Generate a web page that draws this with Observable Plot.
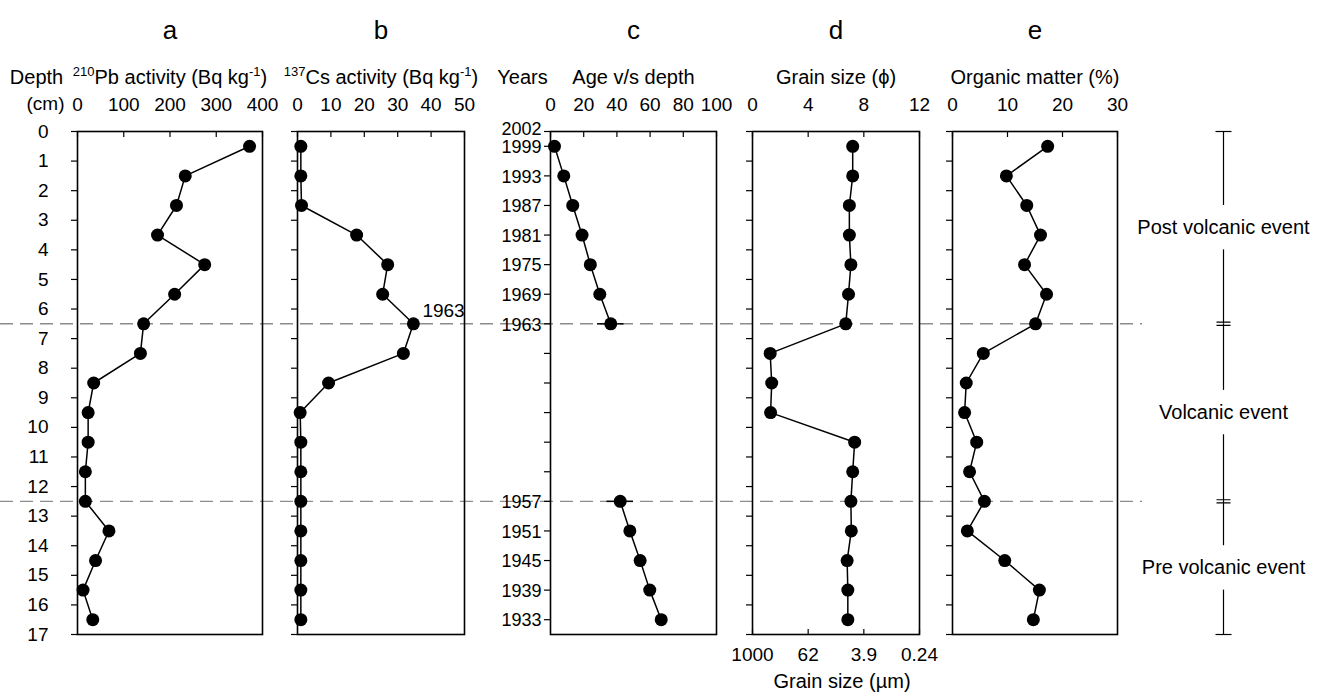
<!DOCTYPE html>
<html><head><meta charset="utf-8">
<script src="https://cdn.jsdelivr.net/npm/d3@7"></script>
<script src="https://cdn.jsdelivr.net/npm/@observablehq/plot@0.6"></script>
<style>
body{margin:0;background:#fff;}
#chart{position:relative;width:1327px;height:694px;overflow:hidden;background:#fff;font-family:"Liberation Sans",Arial,sans-serif;}
#chart svg{position:absolute;top:0;}
</style></head><body><div id="chart"></div>
<script>
// ---------- data ----------
const depths = [0.5,1.5,2.5,3.5,4.5,5.5,6.5,7.5,8.5,9.5,10.5,11.5,12.5,13.5,14.5,15.5,16.5];
const pb210 = [372,233,214,173,275,210,143,136,35,23,23,17,17,68,39,12,33];
const cs137 = [1,1,1.2,17.7,27,25.5,34.7,31.7,9.3,0.8,1,1,1,1,1,1,1];
const grainPhi = [7.2,7.2,6.96,6.96,7.07,6.9,6.7,1.27,1.38,1.3,7.34,7.2,7.07,7.1,6.8,6.85,6.85];
const organic = [17.3,9.8,13.5,16.0,13.1,17.1,15.1,5.6,2.5,2.2,4.4,3.1,5.8,2.7,9.5,15.8,14.7];

const ageDepths = [0.5,1.5,2.5,3.5,4.5,5.5,6.5,12.5,13.5,14.5,15.5,16.5];
const ageValues = [2.4,8,13.4,19,24,29.7,36.3,42,47.8,54,59.8,66.7];
const ageSegment = [1,1,1,1,1,1,1,2,2,2,2,2];
const ageErrDepths = [6.5,12.5];
const ageErr = [8,8];

const yearDepths = [0,0.5,1.5,2.5,3.5,4.5,5.5,6.5,12.5,13.5,14.5,15.5,16.5];
const yearLabels = ["2002","1999","1993","1987","1981","1975","1969","1963","1957","1951","1945","1939","1933"];
const halfDepthTicks = [0,0.5,1.5,2.5,3.5,4.5,5.5,6.5,7.5,8.5,9.5,10.5,11.5,12.5,13.5,14.5,15.5,16.5];
const depthTicks = [0,1,2,3,4,5,6,7,8,9,10,11,12,13,14,15,16,17];

const pbTicks = [0,100,200,300,400];
const csTicks = [0,10,20,30,40,50];
const ageTicks = [0,20,40,60,80,100];
const phiTicks = [0,4,8,12];
const umLabels = ["1000","62","3.9","0.24"];
const omTicks = [0,10,20,30];

const boundaries = [6.5,12.5];
const zones = [
  {label:"Post volcanic event", top:0, bottom:6.5},
  {label:"Volcanic event", top:6.5, bottom:12.5},
  {label:"Pre volcanic event", top:12.5, bottom:17}
];

// ---------- layout ----------
const H = 694, TOP = 131, BOTTOM = 634;
const FONT = '"Liberation Sans", Arial, sans-serif';
const chart = document.getElementById("chart");
const baseStyle = {background:"transparent", fontFamily:FONT, color:"#000", overflow:"visible"};
const yScale = {domain:[0,17], reverse:true};

const rows = (xs) => depths.map((d,i)=>({depth:d, v:xs[i]}));

function superscriptify(svg){
  svg.querySelectorAll("text").forEach(t=>{
    const s = t.textContent;
    if(!s.includes("^{")) return;
    const parts = s.split(/(\^\{[^}]*\})/).filter(p=>p);
    while(t.firstChild) t.removeChild(t.firstChild);
    let shift = 0;
    for(const part of parts){
      const ts = document.createElementNS("http://www.w3.org/2000/svg","tspan");
      const m = part.match(/^\^\{(.*)\}$/);
      if(m){ ts.textContent = m[1]; ts.setAttribute("font-size","13"); ts.setAttribute("dy", String(-8 - shift)); shift = -8; }
      else { ts.textContent = part; ts.setAttribute("dy", String(-shift)); shift = 0; }
      t.appendChild(ts);
    }
  });
}

function panel(cfg){
  const fw = cfg.right - cfg.left;
  const ml = Math.min(80, cfg.left);
  const mr = 40;
  const marks = [
    Plot.axisX(cfg.xticks, {anchor:"top", tickSize:-5, tickPadding:26, label:null, fontSize:19, tickFormat: d=>String(d), strokeWidth:1.2}),
    Plot.axisY(cfg.yticks || depthTicks, {anchor:"left", tickSize:6, tickPadding: cfg.ypad ?? 21, label:null, fontSize:19, tickFormat: cfg.yfmt || (()=>""), strokeWidth:1.2}),
    Plot.frame({stroke:"#000", strokeWidth:1.6}),
    Plot.text([cfg.letter], {frameAnchor:"top", dy:-101, fontSize:26, lineAnchor:"middle"}),
    Plot.text([cfg.title], {frameAnchor:"top", dy:-54, fontSize:20, lineAnchor:"middle"}),
    ...cfg.marks
  ];
  const p = Plot.plot({
    width: ml + fw + mr, height: H,
    marginLeft: ml, marginRight: mr, marginTop: TOP, marginBottom: H - BOTTOM,
    style: baseStyle,
    x: {domain: cfg.domain},
    y: yScale,
    marks
  });
  p.style.left = (cfg.left - ml) + "px";
  superscriptify(p);
  return p;
}

// dashed boundary lines (behind panels)
const overlay = Plot.plot({
  width: 1142, height: H, marginLeft: 0, marginRight: 0, marginTop: TOP, marginBottom: H - BOTTOM,
  style: baseStyle, x: {axis:null}, y: {...yScale, axis:null},
  marks: [Plot.ruleY(boundaries, {stroke:"#8c8c8c", strokeWidth:1.4, strokeDasharray:"13,7"})]
});
overlay.style.left = "0px";
chart.appendChild(overlay);

const dotOpts = {r:6.5, fill:"#000"};
const lineOpts = {stroke:"#000", strokeWidth:1.5};

// a: 210Pb
chart.appendChild(panel({
  left:77, right:262, domain:[0,400], xticks:pbTicks, letter:"a",
  title:"^{210}Pb activity (Bq kg^{-1})", yfmt: d=>String(d), ypad:23,
  marks:[
    Plot.text(["Depth"], {frameAnchor:"top-left", dx:-41, dy:-54, fontSize:20, lineAnchor:"middle", textAnchor:"middle"}),
    Plot.text(["(cm)"], {frameAnchor:"top-left", dx:-32, dy:-28, fontSize:19, lineAnchor:"middle", textAnchor:"middle"}),
    Plot.line(rows(pb210), {x:"v", y:"depth", ...lineOpts}),
    Plot.dot(rows(pb210), {x:"v", y:"depth", ...dotOpts})
  ]
}));

// b: 137Cs
const csPeakIndex = d3.maxIndex(cs137);
const csPeak = [{depth: depths[csPeakIndex], v: cs137[csPeakIndex], label: yearLabels[yearDepths.indexOf(depths[csPeakIndex])]}];
chart.appendChild(panel({
  left:297, right:464, domain:[0,50], xticks:csTicks, letter:"b",
  title:"^{137}Cs activity (Bq kg^{-1})",
  marks:[
    Plot.line(rows(cs137), {x:"v", y:"depth", ...lineOpts}),
    Plot.dot(rows(cs137), {x:"v", y:"depth", ...dotOpts}),
    Plot.text(csPeak, {x:"v", y:"depth", text:"label", dx:9, dy:-13, textAnchor:"start", fontSize:19, lineAnchor:"middle"})
  ]
}));

// c: age vs depth
const ageRows = ageDepths.map((d,i)=>({depth:d, v:ageValues[i], seg:ageSegment[i]}));
const errRows = ageErrDepths.map((d,i)=>({depth:d, v:ageValues[ageDepths.indexOf(d)], e:ageErr[i]}));
const yearRows = yearDepths.map((d,i)=>({depth:d, label:yearLabels[i]}));
const yearText = {frameAnchor:"left", y:"depth", text:"label", dx:-9, textAnchor:"end", fontSize:18};
chart.appendChild(panel({
  left:550, right:716, domain:[0,100], xticks:ageTicks, letter:"c",
  title:"Age v/s depth", yticks: halfDepthTicks, ypad:4,
  marks:[
    Plot.text(["Years"], {frameAnchor:"top-left", dx:-28, dy:-54, fontSize:20, lineAnchor:"middle", textAnchor:"middle"}),
    Plot.text(yearRows.filter(d=>d.depth > 0), {...yearText, lineAnchor:"middle", dy:1}),
    Plot.text(yearRows.filter(d=>d.depth === 0), {...yearText, lineAnchor:"bottom", dy:3}),
    Plot.ruleY(errRows, {y:"depth", x1:d=>d.v-d.e, x2:d=>d.v+d.e, stroke:"#000", strokeWidth:1.5}),
    Plot.line(ageRows, {x:"v", y:"depth", z:"seg", ...lineOpts}),
    Plot.dot(ageRows, {x:"v", y:"depth", ...dotOpts})
  ]
}));

// d: grain size
const umMap = new Map(phiTicks.map((p,i)=>[p, umLabels[i]]));
chart.appendChild(panel({
  left:752, right:919, domain:[0,12], xticks:phiTicks, letter:"d",
  title:"Grain size (\u03D5)",
  marks:[
    Plot.axisX(phiTicks, {anchor:"bottom", tickSize:-5, tickPadding:18, label:null, fontSize:19, tickFormat: d=>umMap.get(d), strokeWidth:1.2}),
    Plot.text(["Grain size (\u00B5m)"], {frameAnchor:"bottom", dx:6, dy:47, fontSize:20, lineAnchor:"middle"}),
    Plot.line(rows(grainPhi), {x:"v", y:"depth", ...lineOpts}),
    Plot.dot(rows(grainPhi), {x:"v", y:"depth", ...dotOpts})
  ]
}));

// e: organic matter
chart.appendChild(panel({
  left:952, right:1117, domain:[0,30], xticks:omTicks, letter:"e",
  title:"Organic matter (%)",
  marks:[
    Plot.line(rows(organic), {x:"v", y:"depth", ...lineOpts}),
    Plot.dot(rows(organic), {x:"v", y:"depth", ...dotOpts})
  ]
}));

// right-hand zone annotation
const GAP = 0.75;
const zoneSegs = zones.flatMap(z=>{
  const mid = (z.top + z.bottom)/2;
  return [{y1:z.top, y2:mid-GAP}, {y1:mid+GAP, y2:z.bottom}];
});
const hline = {draw(ctx, size){ const r = Math.sqrt(size/Math.PI); ctx.moveTo(-r,0); ctx.lineTo(r,0); }};
const dline = {draw(ctx, size){ const r = Math.sqrt(size/Math.PI); ctx.moveTo(-r,-1.6); ctx.lineTo(r,-1.6); ctx.moveTo(-r,1.6); ctx.lineTo(r,1.6); }};
const ends = [zones[0].top, zones[zones.length-1].bottom];
const annot = Plot.plot({
  width: 204, height: H, marginLeft: 0, marginRight: 0, marginTop: TOP, marginBottom: H - BOTTOM,
  style: baseStyle, x: {domain:[0,1], axis:null}, y: {...yScale, axis:null},
  marks: [
    Plot.ruleX(zoneSegs, {x:0.5, y1:"y1", y2:"y2", stroke:"#000", strokeWidth:1.2}),
    Plot.dot(ends, {x:0.5, y:d=>d, symbol:hline, r:8, stroke:"#000", strokeWidth:1.2, fill:"none"}),
    Plot.dot(boundaries, {x:0.5, y:d=>d, symbol:dline, r:7, stroke:"#000", strokeWidth:1.2, fill:"none"}),
    Plot.text(zones, {x:0.5, y:d=>(d.top+d.bottom)/2, text:"label", fontSize:20, lineAnchor:"middle"})
  ]
});
annot.style.left = (1223 - 102) + "px";
chart.appendChild(annot);
</script>
</body></html>
